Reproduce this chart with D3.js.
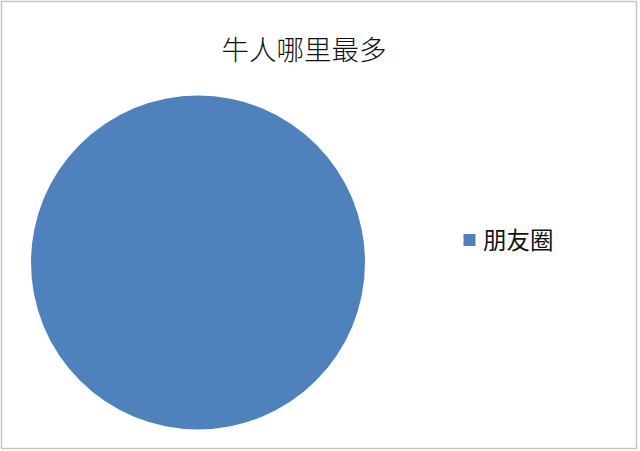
<!DOCTYPE html>
<html><head><meta charset="utf-8">
<script src="https://cdn.jsdelivr.net/npm/d3@7"></script>
<style>html,body{margin:0;padding:0;background:#fff;}</style>
</head><body>
<script>
const title = "牛人哪里最多";
const categories = ["朋友圈"];
const values = [100];
const colors = ["#4F81BD"];

const W = 640, H = 451;
const svg = d3.select("body").append("svg").attr("width", W).attr("height", H);
svg.append("rect").attr("x", 1.5).attr("y", 1.5).attr("width", W - 5).attr("height", H - 4)
  .attr("fill", "#fff").attr("stroke", "#c6c6c6").attr("stroke-width", 1.5);

svg.append("text").attr("x", 304).attr("y", 60).attr("text-anchor", "middle")
  .attr("font-family", "'Noto Sans CJK SC', sans-serif").attr("font-size", 27.5)
  .attr("font-weight", 300).attr("fill", "#111").text(title);

const pie = d3.pie().sort(null).value(d => d)(values);
const arc = d3.arc().innerRadius(0).outerRadius(167);
const color = d3.scaleOrdinal().domain(categories).range(colors);
svg.append("g").attr("transform", "translate(198,262.5)")
  .selectAll("path").data(pie).join("path")
  .attr("d", arc).attr("fill", (d, i) => color(categories[i]));

const leg = svg.append("g").selectAll("g").data(categories).join("g")
  .attr("transform", (d, i) => `translate(463.5,${234 + i * 30})`);
leg.append("rect").attr("width", 12).attr("height", 12).attr("fill", d => color(d));
leg.append("text").attr("x", 19.5).attr("y", 15)
  .attr("font-family", "'Noto Sans CJK SC', sans-serif").attr("font-size", 23.5)
  .attr("fill", "#111").text(d => d);
</script>
</body></html>
